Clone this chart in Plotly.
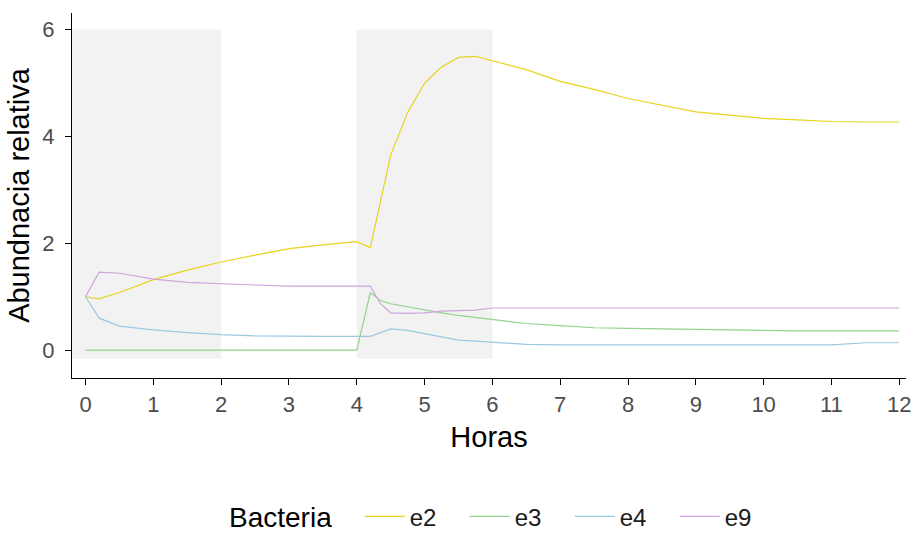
import plotly.graph_objects as go

horas = [0, 0.2, 0.5, 1, 1.5, 2, 2.5, 3, 3.5, 4, 4.2, 4.35, 4.5, 4.75, 5, 5.25, 5.5, 5.75, 6,
         6.5, 7, 7.5, 8, 8.5, 9, 9.5, 10, 10.5, 11, 11.5, 12]

e2 = [1.0, 0.96, 1.08, 1.32, 1.5, 1.65, 1.78, 1.9, 1.97, 2.03, 1.92, 2.8, 3.65, 4.45, 5.0, 5.3, 5.48, 5.5, 5.42,
      5.25, 5.03, 4.88, 4.71, 4.58, 4.46, 4.4, 4.34, 4.31, 4.28, 4.27, 4.27]
e3 = [0, 0, 0, 0, 0, 0, 0, 0, 0, 0, 1.08, 0.93, 0.87, 0.81, 0.75, 0.7, 0.65, 0.61, 0.57,
      0.5, 0.46, 0.42, 0.41, 0.4, 0.38, 0.37, 0.36, 0.36, 0.36, 0.36, 0.36]
e4 = [1.0, 0.6, 0.45, 0.38, 0.33, 0.29, 0.27, 0.26, 0.26, 0.26, 0.26, 0.33, 0.4, 0.37, 0.31, 0.25, 0.19, 0.17, 0.15,
      0.11, 0.1, 0.1, 0.1, 0.1, 0.1, 0.1, 0.1, 0.1, 0.1, 0.14, 0.14]
e9 = [1.0, 1.46, 1.44, 1.33, 1.27, 1.24, 1.22, 1.2, 1.2, 1.2, 1.2, 0.87, 0.7, 0.69, 0.7, 0.73, 0.74, 0.75, 0.79,
      0.79, 0.79, 0.79, 0.79, 0.79, 0.79, 0.79, 0.79, 0.79, 0.79, 0.79, 0.79]

series = {"e2": e2, "e3": e3, "e4": e4, "e9": e9}
colors = {"e2": "#E8D31E", "e3": "#93D38E", "e4": "#9DC8E2", "e9": "#D0A4DD"}
legend_title = "Bacteria"

# shaded intervals (hours)
shade_x0 = [-0.2, 4]
shade_x1 = [2, 6]
shade_y0 = -0.16
shade_y1 = 6

fig = go.Figure()
for name, vals in series.items():
    fig.add_trace(go.Scatter(x=horas, y=vals, mode="lines", name=name,
                             line=dict(color=colors[name], width=1.2)))

for a, b in zip(shade_x0, shade_x1):
    fig.add_shape(type="rect", x0=a, x1=b, y0=shade_y0, y1=shade_y1, xref="x", yref="y",
                  fillcolor="#F2F2F2", line=dict(width=0), layer="below")

fig.add_annotation(text=legend_title, xref="paper", yref="paper", x=0.186, y=-0.381,
                   xanchor="left", yanchor="middle", showarrow=False,
                   font=dict(size=28, color="black"))

font_family = "Liberation Sans, Arial, sans-serif"
fig.update_layout(
    width=913, height=535,
    margin=dict(l=72, r=7, t=13, b=157, autoexpand=False),
    paper_bgcolor="white", plot_bgcolor="white",
    font=dict(family=font_family, color="black"),
    showlegend=True,
    legend=dict(orientation="h", x=0.345, xanchor="left", y=-0.38, yanchor="middle",
                bgcolor="rgba(0,0,0,0)",
                font=dict(size=24, color="#1a1a1a"), itemwidth=40,
                entrywidth=50, entrywidthmode="pixels"),
)
fig.update_xaxes(range=[-0.2, 12.1], tickmode="array", tickvals=list(range(0, 13)),
                 showgrid=False, zeroline=False, showline=True, linecolor="black", linewidth=1.2,
                 ticks="outside", ticklen=6, tickcolor="black",
                 tickfont=dict(size=22, color="#4D4D4D"),
                 title=dict(text="Horas", font=dict(size=29, color="black"), standoff=11))
fig.update_yaxes(range=[-0.52, 6.31], tickmode="array", tickvals=[0, 2, 4, 6],
                 showgrid=False, zeroline=False, showline=True, linecolor="black", linewidth=1.2,
                 ticks="outside", ticklen=6, tickcolor="black", ticklabelstandoff=6,
                 tickfont=dict(size=22, color="#4D4D4D"),
                 title=dict(text="Abundnacia relativa", font=dict(size=29, color="black"), standoff=4))

fig.write_html("out.html")
